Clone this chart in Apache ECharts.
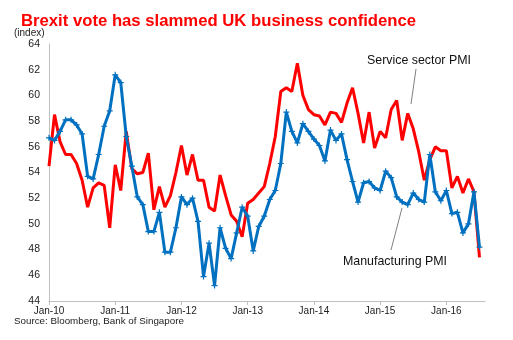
<!DOCTYPE html>
<html>
<head>
<meta charset="utf-8">
<script src="https://cdn.jsdelivr.net/npm/echarts@6/dist/echarts.min.js"></script>
<style>
html,body{margin:0;padding:0;background:#fff;}
#chart{width:513px;height:340px;}
</style>
</head>
<body>
<div id="chart"></div>
<script>
// Month abbreviations and years used to build the monthly categories (Jan-10 .. Aug-16)
const monthNames = ['Jan','Feb','Mar','Apr','May','Jun','Jul','Aug','Sep','Oct','Nov','Dec'];
const yearLabels = ['10','11','12','13','14','15','16'];
const tickLabels = ['Jan-10','Jan-11','Jan-12','Jan-13','Jan-14','Jan-15','Jan-16'];
const yTicks = [44, 46, 48, 50, 52, 54, 56, 58, 60, 62, 64];

// Service sector PMI, Jan-10 .. Jul-16
const servicePMI = [
  54.5, 58.5, 56.4, 55.4, 55.4, 54.7, 53.4, 51.3, 52.8, 53.2, 53.0, 49.7,
  54.6, 52.6, 57.2, 54.3, 53.9, 54.0, 55.5, 51.1, 52.9, 51.3, 52.2, 54.0,
  56.1, 53.8, 55.4, 53.4, 53.4, 51.3, 51.0, 53.8, 52.2, 50.7, 50.2, 49.0,
  51.6, 51.9, 52.4, 52.9, 54.7, 56.8, 60.3, 60.6, 60.3, 62.5, 60.0, 58.9,
  58.5, 58.4, 57.7, 58.7, 58.6, 57.9, 59.4, 60.6, 58.6, 56.3, 58.7, 55.9,
  57.2, 56.7, 58.9, 59.6, 56.5, 58.6, 57.4, 55.6, 53.4, 55.0, 56.0, 55.7,
  55.7, 52.8, 53.7, 52.4, 53.5, 52.5, 47.4
];

// Manufacturing PMI, Jan-10 .. Jul-16
const manufacturingPMI = [
  56.7, 56.5, 57.2, 58.1, 58.1, 57.7, 57.0, 53.7, 53.5, 55.4, 57.6, 58.8,
  61.6, 61.0, 56.8, 54.5, 52.1, 51.5, 49.4, 49.4, 50.9, 47.8, 47.8, 49.7,
  52.1, 51.5, 52.0, 50.2, 45.9, 48.5, 45.2, 49.7, 48.1, 47.3, 49.3, 51.3,
  50.6, 47.9, 49.8, 50.6, 51.9, 52.6, 54.7, 58.7, 57.2, 56.3, 57.8, 57.2,
  56.6, 56.1, 54.9, 57.3, 56.5, 57.0, 55.0, 53.3, 51.7, 53.2, 53.3, 52.8,
  52.6, 54.1, 53.6, 52.1, 51.7, 51.5, 52.4, 51.9, 51.7, 55.4, 52.5, 51.8,
  52.6, 50.8, 50.9, 49.3, 50.0, 52.5, 48.2
];

const categories = [];
yearLabels.forEach(y => monthNames.forEach(m => categories.push(m + '-' + y)));
const cats = categories.slice(0, 80); // Jan-10 .. Aug-16

const chart = echarts.init(document.getElementById('chart'), null, {renderer: 'canvas'});
const FONT = 'Liberation Sans, Arial, sans-serif';

chart.setOption({
  animation: false,
  backgroundColor: '#ffffff',
  title: {
    text: 'Brexit vote has slammed UK business confidence',
    left: 16, top: 8,
    textStyle: {color: '#FF0000', fontSize: 16.7, fontWeight: 'bold', fontFamily: FONT}
  },
  grid: {left: 49, right: 28, top: 44, bottom: 39, containLabel: false},
  xAxis: {
    type: 'category',
    data: cats,
    boundaryGap: false,
    axisLine: {lineStyle: {color: '#BFBFBF', width: 1}},
    axisTick: {
      show: true, length: 4, lineStyle: {color: '#BFBFBF'},
      interval: (i, v) => tickLabels.indexOf(v) >= 0
    },
    axisLabel: {
      interval: (i, v) => tickLabels.indexOf(v) >= 0,
      color: '#222', fontSize: 10, fontFamily: FONT, margin: 5
    },
    splitLine: {show: false}
  },
  yAxis: {
    type: 'value',
    min: yTicks[0], max: yTicks[yTicks.length - 1], interval: 2,
    axisLine: {show: true, lineStyle: {color: '#BFBFBF', width: 1}},
    axisTick: {show: false},
    axisLabel: {color: '#222', fontSize: 10.5, fontFamily: FONT, margin: 9},
    splitLine: {show: false}
  },
  graphic: [
    {type: 'text', left: 14, top: 28, style: {text: '(index)', fill: '#222', font: '10px ' + FONT}},
    {type: 'text', left: 367, top: 55, style: {text: 'Service sector PMI', fill: '#111', font: '12.4px ' + FONT}},
    {type: 'line', shape: {x1: 416, y1: 69, x2: 411, y2: 104}, style: {stroke: '#808080', lineWidth: 1}},
    {type: 'text', left: 343, top: 256, style: {text: 'Manufacturing PMI', fill: '#111', font: '12.4px ' + FONT}},
    {type: 'line', shape: {x1: 391, y1: 250, x2: 402, y2: 208}, style: {stroke: '#808080', lineWidth: 1}},
    {type: 'text', left: 14, top: 316, style: {text: 'Source: Bloomberg, Bank of Singapore', fill: '#222', font: '9.8px ' + FONT}}
  ],
  series: [
    {
      name: 'Service sector PMI',
      type: 'line',
      data: servicePMI,
      showSymbol: false,
      symbol: 'none',
      lineStyle: {color: '#FF0000', width: 3},
      z: 2
    },
    {
      name: 'Manufacturing PMI',
      type: 'line',
      data: manufacturingPMI,
      symbol: 'path://M0,2H5V3H0ZM2,0H3V5H2Z',
      symbolSize: 6,
      showSymbol: true,
      showAllSymbol: true,
      itemStyle: {color: '#0070C0'},
      lineStyle: {color: '#0070C0', width: 3},
      z: 3
    }
  ]
});
</script>
</body>
</html>
